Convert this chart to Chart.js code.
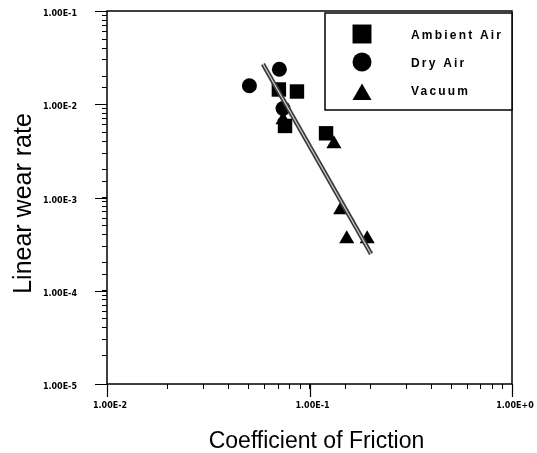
<!DOCTYPE html>
<html lang="en">
<head>
  <meta charset="UTF-8">
  <title>Linear wear rate vs Coefficient of Friction</title>
  <script src="https://cdn.jsdelivr.net/npm/chart.js"></script>
  <style>
    body { margin: 0; background: #fff; }
    canvas { display: block; }
  </style>
</head>
<body>
  <canvas id="wearChart" width="537" height="453"></canvas>

  <script>
    // values (log-log)
    const ambientX = [0.0706, 0.0867, 0.0757, 0.1207];
    const ambientY = [0.0144, 0.0137, 0.00585, 0.00488];
    const dryX = [0.0710, 0.0505, 0.0740];
    const dryY = [0.0237, 0.0158, 0.0090];
    const vacuumX = [0.0740, 0.132, 0.1426, 0.1527, 0.1927];
    const vacuumY = [0.00678, 0.00376, 0.000735, 0.000359, 0.000359];
    const fitX = [0.0589, 0.2014];
    const fitY = [0.0270, 0.000248];

    const xDecades = [0.01, 0.1, 1];
    const xTickLabels = ['1.00E-2', '1.00E-1', '1.00E+0'];
    const yDecades = [0.00001, 0.0001, 0.001, 0.01, 0.1];
    const yTickLabels = ['1.00E-5', '1.00E-4', '1.00E-3', '1.00E-2', '1.00E-1'];

    const legendItems = [
      { label: 'Ambient Air', style: 'rect', radius: 13.4 },
      { label: 'Dry Air', style: 'circle', radius: 9.5 },
      { label: 'Vacuum', style: 'triangle', radius: 11 }
    ];

    const pts = (xs, ys) => xs.map((x, i) => ({ x: x, y: ys[i] }));

    function decadeLabel(v, decades, labels) {
      for (let i = 0; i < decades.length; i++) {
        if (Math.abs(Math.log10(v) - Math.log10(decades[i])) < 1e-6) return labels[i];
      }
      return '';
    }

    const tickFont = { family: 'DejaVu Sans', size: 8, weight: 'bold' };

    // frame, long decade ticks, axis titles and the boxed legend
    const extrasPlugin = {
      id: 'extras',
      afterDraw(chart) {
        const { ctx, chartArea: a, scales } = chart;
        ctx.save();
        ctx.strokeStyle = '#000';
        ctx.lineWidth = 1.5;
        ctx.strokeRect(a.left, a.top, a.right - a.left, a.bottom - a.top);

        ctx.lineWidth = 1.2;
        ctx.beginPath();
        yDecades.forEach(v => {
          const y = Math.round(scales.y.getPixelForValue(v)) + 0.5;
          ctx.moveTo(a.left - 12, y);
          ctx.lineTo(a.left, y);
        });
        xDecades.forEach(v => {
          const x = Math.round(scales.x.getPixelForValue(v)) + 0.5;
          ctx.moveTo(x, a.bottom);
          ctx.lineTo(x, a.bottom + 13);
        });
        ctx.stroke();

        // axis titles
        ctx.fillStyle = '#000';
        ctx.font = '23px "Liberation Sans", Arial, sans-serif';
        ctx.textAlign = 'center';
        ctx.textBaseline = 'alphabetic';
        ctx.fillText('Coefficient of Friction', 316.5, 448);
        ctx.save();
        ctx.translate(31, 203.5);
        ctx.rotate(-Math.PI / 2);
        ctx.font = '25px "Liberation Sans", Arial, sans-serif';
        ctx.fillText('Linear wear rate', 0, 0);
        ctx.restore();

        // legend box
        const bx = 325, by = a.top + 2, bw = a.right - 325, bh = 97;
        ctx.fillStyle = '#fff';
        ctx.fillRect(bx, by, bw, bh);
        ctx.lineWidth = 1.5;
        ctx.strokeRect(bx, by, bw, bh);
        const markY = [21, 49, 81.5];
        const textY = [26.3, 54.3, 82];
        legendItems.forEach((it, i) => {
          ctx.fillStyle = '#000';
          ctx.strokeStyle = '#000';
          Chart.helpers.drawPoint(ctx, { pointStyle: it.style, radius: it.radius, rotation: 0, borderWidth: 0 }, bx + 37, by + markY[i]);
          ctx.font = 'bold 12px "Liberation Sans", Arial, sans-serif';
          ctx.letterSpacing = '2.2px';
          ctx.textAlign = 'left';
          ctx.fillText(it.label, bx + 86, by + textY[i]);
          ctx.letterSpacing = '0px';
        });
        ctx.restore();
      }
    };

    const ctx = document.getElementById('wearChart').getContext('2d');
    new Chart(ctx, {
      type: 'scatter',
      data: {
        datasets: [
          {
            label: 'fit core',
            type: 'line',
            data: pts(fitX, fitY),
            borderColor: '#d0d0d0',
            borderWidth: 1.2,
            pointRadius: 0,
            fill: false
          },
          {
            label: 'fit',
            type: 'line',
            data: pts(fitX, fitY),
            borderColor: '#3a3a3a',
            borderWidth: 4.5,
            pointRadius: 0,
            fill: false
          },
          {
            label: 'Ambient Air',
            data: pts(ambientX, ambientY),
            pointStyle: 'rect',
            pointRadius: 10.2,
            backgroundColor: '#000',
            borderWidth: 0
          },
          {
            label: 'Dry Air',
            data: pts(dryX, dryY),
            pointStyle: 'circle',
            pointRadius: 7.5,
            backgroundColor: '#000',
            borderWidth: 0
          },
          {
            label: 'Vacuum',
            data: pts(vacuumX, vacuumY),
            pointStyle: 'triangle',
            pointRadius: 8.7,
            backgroundColor: '#000',
            borderWidth: 0
          }
        ]
      },
      options: {
        responsive: false,
        animation: false,
        layout: { padding: { top: 11, right: 25, left: 0, bottom: 0 } },
        plugins: {
          legend: { display: false },
          tooltip: { enabled: false }
        },
        scales: {
          x: {
            type: 'logarithmic',
            min: 0.01,
            max: 1,
            afterFit: s => { s.height = 69; s.paddingLeft = 0; s.paddingRight = 0; },
            border: { display: false },
            grid: { drawOnChartArea: false, drawTicks: true, tickLength: 5, color: '#000', lineWidth: 1 },
            ticks: {
              autoSkip: false,
              maxRotation: 0,
              padding: 12,
              labelOffset: 3,
              color: '#000',
              font: tickFont,
              callback: v => decadeLabel(v, xDecades, xTickLabels)
            }
          },
          y: {
            type: 'logarithmic',
            min: 0.00001,
            max: 0.1,
            afterFit: s => { s.width = 107; s.paddingTop = 0; s.paddingBottom = 0; },
            border: { display: false },
            grid: { drawOnChartArea: false, drawTicks: true, tickLength: 5, color: '#000', lineWidth: 1 },
            ticks: {
              autoSkip: false,
              padding: 25,
              labelOffset: 3,
              color: '#000',
              font: tickFont,
              callback: v => decadeLabel(v, yDecades, yTickLabels)
            }
          }
        }
      },
      plugins: [extrasPlugin]
    });
  </script>
</body>
</html>
